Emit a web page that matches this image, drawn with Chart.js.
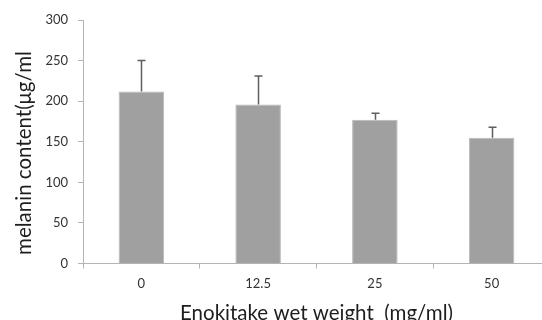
<!DOCTYPE html>
<html>
<head>
<meta charset="utf-8">
<script src="https://cdn.jsdelivr.net/npm/chart.js@4"></script>
<style>
    html, body { margin: 0; padding: 0; background: #fff; overflow: hidden; }
    #wrap { position: relative; width: 550px; height: 320px; }
</style>
</head>
<body>
<div id="wrap"><canvas id="chart" width="550" height="320"></canvas></div>
<script>
const categories = ['0', '12.5', '25', '50'];
const melanin = [212, 196, 177, 155];
const melaninErr = [38, 35, 8, 13];
const yTicks = [0, 50, 100, 150, 200, 250, 300];

const xTitle = 'Enokitake wet weight  (mg/ml)';
const yTitle = 'melanin content(\u03bcg/ml';
const fontFamily = 'Lato, "Open Sans", sans-serif';

// upper error bars drawn from the y scale
const errorBars = {
    id: 'errorBars',
    afterDatasetsDraw(chart) {
        const ctx = chart.ctx;
        const yScale = chart.scales.y;
        const meta = chart.getDatasetMeta(0);
        ctx.save();
        ctx.strokeStyle = '#5e5e5e';
        ctx.lineWidth = 1.5;
        meta.data.forEach((bar, i) => {
            const x = Math.round(bar.x) + 0.5;
            const yBase = yScale.getPixelForValue(melanin[i]);
            const yTop = yScale.getPixelForValue(melanin[i] + melaninErr[i]);
            ctx.beginPath();
            ctx.moveTo(x, yBase);
            ctx.lineTo(x, yTop);
            ctx.moveTo(x - 4, yTop);
            ctx.lineTo(x + 4, yTop);
            ctx.stroke();
        });
        ctx.restore();
    }
};

// y axis title, placed like the original (not centred on the axis)
const yAxisTitle = {
    id: 'yAxisTitle',
    afterDraw(chart) {
        const ctx = chart.ctx;
        ctx.save();
        ctx.translate(24, 153);
        ctx.rotate(-Math.PI / 2);
        ctx.font = '20.5px ' + fontFamily;
        ctx.fillStyle = '#1e1e1e';
        ctx.textAlign = 'center';
        ctx.textBaseline = 'middle';
        ctx.fillText(yTitle, 0, 0);
        ctx.restore();
    }
};

new Chart(document.getElementById('chart'), {
    type: 'bar',
    data: {
        labels: categories,
        datasets: [{
            data: melanin,
            backgroundColor: '#a0a0a0',
            borderColor: '#b8b8b8',
            borderWidth: 1,
            barPercentage: 0.39,
            categoryPercentage: 1
        }]
    },
    options: {
        responsive: false,
        animation: false,
        devicePixelRatio: 1,
        layout: { padding: { left: 0, right: 0, top: 20, bottom: 0 } },
        plugins: {
            legend: { display: false },
            tooltip: { enabled: false }
        },
        scales: {
            x: {
                offset: true,
                afterFit(scale) { scale.height = 56.5; },
                border: { color: '#b4b4b4', width: 1 },
                grid: {
                    offset: true,
                    drawOnChartArea: false,
                    drawTicks: true,
                    tickLength: 5,
                    color: '#b4b4b4'
                },
                ticks: {
                    padding: 8,
                    color: '#333333',
                    font: { family: fontFamily, size: 13 }
                },
                title: {
                    display: true,
                    text: xTitle,
                    color: '#1e1e1e',
                    font: { family: fontFamily, size: 20.5 },
                    padding: { top: 0, bottom: -6 }
                }
            },
            y: {
                min: 0,
                max: 300,
                afterFit(scale) { scale.width = 83; },
                afterBuildTicks(scale) { scale.ticks = yTicks.map(v => ({ value: v })); },
                border: { color: '#b4b4b4', width: 1 },
                grid: {
                    drawOnChartArea: false,
                    drawTicks: true,
                    tickLength: 5,
                    color: '#b4b4b4'
                },
                ticks: {
                    padding: 10,
                    color: '#333333',
                    font: { family: fontFamily, size: 13 }
                }
            }
        }
    },
    plugins: [errorBars, yAxisTitle]
});
</script>
</body>
</html>
